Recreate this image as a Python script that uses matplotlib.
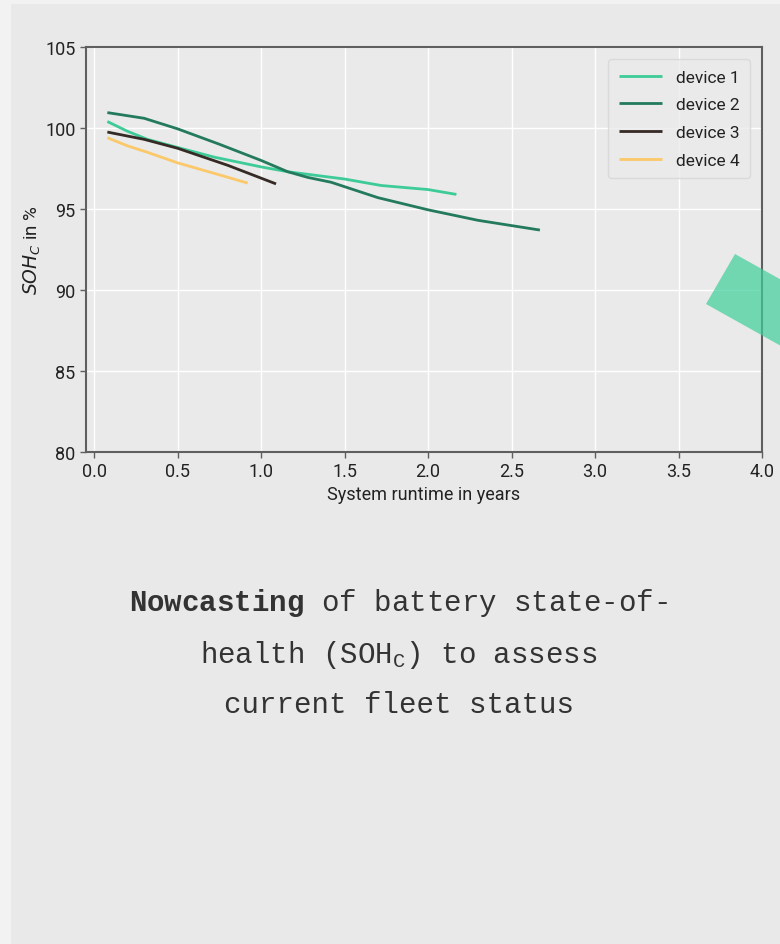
import matplotlib
matplotlib.use("Agg")
import matplotlib.pyplot as plt
from matplotlib.patches import Polygon, Rectangle
from matplotlib.transforms import IdentityTransform
from matplotlib import font_manager

# ---------------------------------------------------------------
# Data
# ---------------------------------------------------------------

DEVICES = ["device 1", "device 2", "device 3", "device 4"]
COLORS = ["#3dcb98", "#237a5c", "#362a25", "#fbc86a"]

dev1_x = [0.08, 0.20, 0.32, 0.50, 0.72, 1.00, 1.16, 1.50, 1.72, 2.00, 2.17]
dev1_y = [100.4, 99.8, 99.3, 98.8, 98.2, 97.6, 97.3, 96.85, 96.45, 96.2, 95.9]

dev2_x = [0.08, 0.30, 0.50, 0.75, 1.00, 1.16, 1.28, 1.42, 1.70, 2.00, 2.30, 2.67]
dev2_y = [100.95, 100.6, 99.95, 99.0, 98.0, 97.3, 96.95, 96.65, 95.7, 94.95, 94.3, 93.7]

dev3_x = [0.08, 0.30, 0.50, 0.80, 1.09]
dev3_y = [99.75, 99.3, 98.75, 97.7, 96.55]

dev4_x = [0.08, 0.20, 0.32, 0.50, 0.72, 0.92]
dev4_y = [99.4, 98.9, 98.5, 97.85, 97.2, 96.6]

SERIES = [(dev1_x, dev1_y), (dev2_x, dev2_y), (dev3_x, dev3_y), (dev4_x, dev4_y)]

X_TICKS = [0.0, 0.5, 1.0, 1.5, 2.0, 2.5, 3.0, 3.5, 4.0]
Y_TICKS = [80, 85, 90, 95, 100, 105]

# ---------------------------------------------------------------
# Style
# ---------------------------------------------------------------

plt.rcParams["mathtext.fontset"] = "custom"
plt.rcParams["mathtext.rm"] = "Liberation Mono"
plt.rcParams["mathtext.bf"] = "Liberation Mono:bold"
plt.rcParams["mathtext.it"] = "DejaVu Sans:italic"

installed = {f.name for f in font_manager.fontManager.ttflist}
NARROW = ["Liberation Sans Narrow", "Roboto", "DejaVu Sans"]
NARROW = [f for f in NARROW if f in installed] or ["DejaVu Sans"]

fig = plt.figure(figsize=(7.8, 9.45), dpi=100, facecolor="#f2f2f2")

# slide panel behind everything
fig.patches.append(Rectangle((11 / 780, 0), 1, 1 - 5 / 945, transform=fig.transFigure,
                             facecolor="#e9e9e9", edgecolor="none", zorder=-10))

ax = fig.add_axes([86 / 780, 1 - 453 / 945, (762 - 86) / 780, (453 - 48) / 945])
ax.set_facecolor("#eaeaea")

for (xs, ys), name, col in zip(SERIES, DEVICES, COLORS):
    ax.plot(xs, ys, color=col, lw=2, label=name, solid_capstyle="butt")

ax.set_xlim(-0.048, 4.0)
ax.set_ylim(80, 105)
ax.set_xticks(X_TICKS)
ax.set_xticklabels([f"{t:.1f}" for t in X_TICKS])
ax.set_yticks(Y_TICKS)
ax.grid(True, color="white", lw=1)
ax.set_axisbelow(True)

for s in ax.spines.values():
    s.set_color("#5f5f5f")
    s.set_linewidth(1.5)
ax.tick_params(direction="out", length=4, width=1, color="#5f5f5f", labelcolor="#222222")
for lab in ax.get_xticklabels() + ax.get_yticklabels():
    lab.set_family(NARROW)
    lab.set_fontsize(13)

ax.set_xlabel("System runtime in years", family=NARROW, fontsize=13, color="#222222", labelpad=3)
ax.set_ylabel(r"$SOH_C$ in %", family=["Roboto", "DejaVu Sans"], fontsize=13.5, color="#222222")
ax.yaxis.set_label_coords(-0.064, 0.5)

leg = ax.legend(loc="upper right", prop={"family": ["Roboto", "DejaVu Sans"], "size": 12.5},
                frameon=True, fancybox=True, facecolor="#ebebeb", edgecolor="#d6d6d6",
                handlelength=2.5, handletextpad=0.8, labelspacing=0.72, borderpad=0.6,
                borderaxespad=0.7)
for t in leg.get_texts():
    t.set_color("#222222")

# decorative teal block on the right edge (figure pixels, origin bottom-left)
fig.patches.append(Polygon([(735, 945 - 255), (706, 945 - 305), (840, 945 - 380), (869, 945 - 330)],
                           closed=True, transform=IdentityTransform(),
                           facecolor="#3ecf9a", alpha=0.7, edgecolor="none", zorder=5))

# caption text
cap = dict(ha="center", va="center", family=["Liberation Mono", "DejaVu Sans Mono"],
           fontsize=21, color="#333333")
fig.text(399 / 780, 1 - 603 / 945, r"$\mathbf{Nowcasting}$ of battery state-of-", **cap)
fig.text(399 / 780, 1 - 655 / 945, r"health (SOH$_\mathrm{C}$) to assess", **cap)
fig.text(399 / 780, 1 - 705 / 945, "current fleet status", **cap)

fig.savefig("out.png", dpi=100, facecolor=fig.get_facecolor())
